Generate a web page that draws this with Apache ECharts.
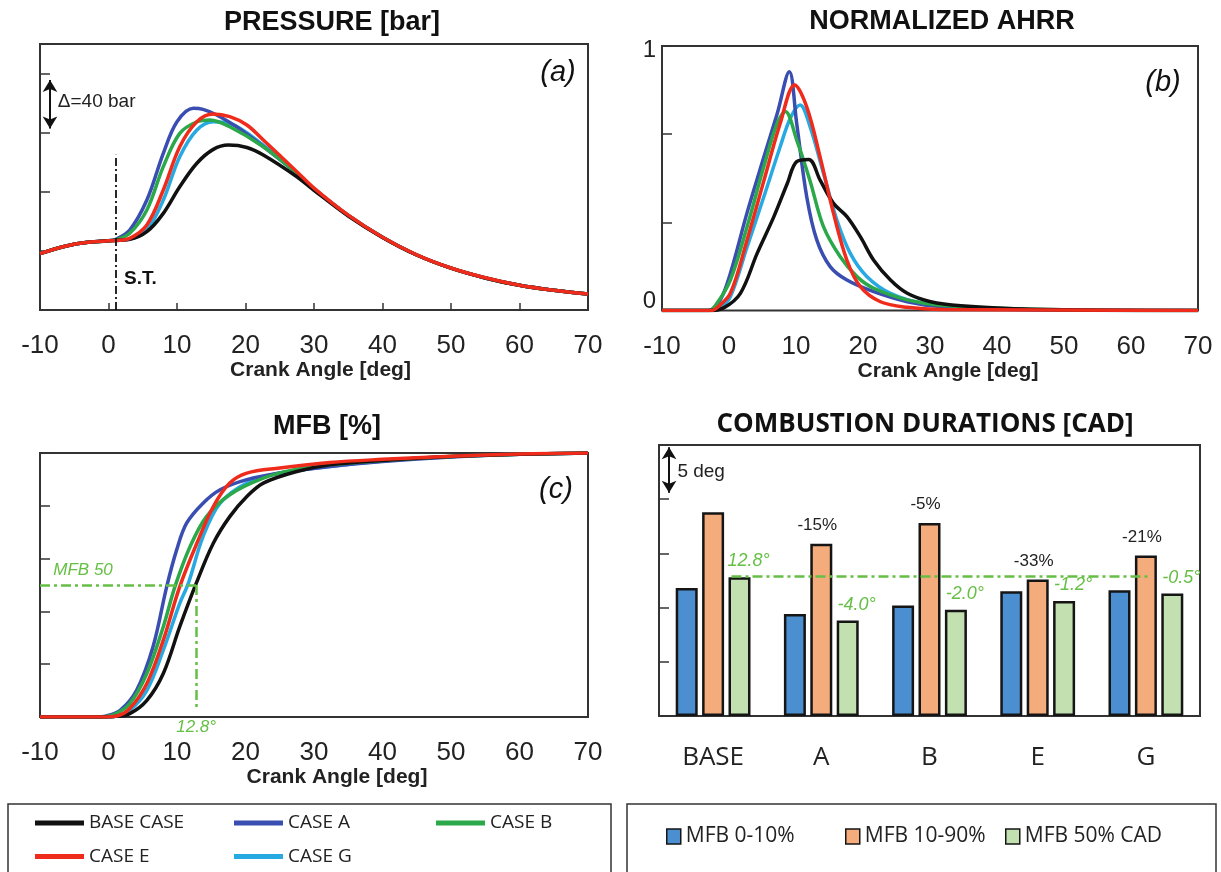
<!DOCTYPE html>
<html>
<head>
<meta charset="utf-8">
<title>Combustion analysis</title>
<script src="https://cdn.jsdelivr.net/npm/echarts@6/dist/echarts.min.js"></script>
<style>
html, body { margin: 0; padding: 0; background: #fff; }
#chart { width: 1221px; height: 872px; }
</style>
</head>
<body>
<div id="chart"></div>
<script>
// case names (legend order)
var caseNames = ['BASE CASE', 'CASE A', 'CASE B', 'CASE E', 'CASE G'];

// (a) in-cylinder pressure [bar] vs crank angle [deg]
var pressureBase = [[-10,38.2],[-6,43.5],[-3,45.8],[0,46.8],[1.1,47.2],[3.1,47.8],[5.6,53],[8,65.4],[10.4,83.4],[12.9,99.3],[15.3,108.7],[17.5,111.6],[20.2,110],[22.6,104.9],[27.5,90.2],[30,81],[35,63.6],[40,49.1],[45,37.2],[50,28.3],[55,21.7],[60,16.7],[65,13.3],[70,10.8]];
var pressureA = [[-10,38.2],[-6,43.5],[-3,45.8],[0,46.9],[1.1,47.9],[3.1,54.1],[5.6,74.4],[8,106],[10,127.4],[12.4,136.5],[13.8,135.8],[15.8,132],[18.7,124],[22.6,110.5],[27.5,92.5],[30,82],[35,64],[40,49.2],[45,37.2],[50,28.3],[55,21.7],[60,16.7],[65,13.3],[70,10.8]];
var pressureB = [[-10,38.2],[-6,43.5],[-3,45.8],[0,46.8],[1.1,47.5],[3.1,51.9],[5.6,67.7],[8,97],[10.4,119.5],[12.9,127.4],[14.8,128.6],[17.7,124],[22.6,110.5],[27.5,92.5],[30,82],[35,64],[40,49.2],[45,37.2],[50,28.3],[55,21.7],[60,16.7],[65,13.3],[70,10.8]];
var pressureE = [[-10,38.2],[-6,43.5],[-3,45.8],[0,46.8],[1.1,47],[3.1,48.5],[5.6,57.5],[8,81.2],[10.4,110.5],[12.9,127.4],[15.3,132.6],[17.7,130.8],[20.2,125.2],[22.6,115],[27.5,93.6],[30,82.5],[35,64.2],[40,49.3],[45,37.3],[50,28.4],[55,21.8],[60,16.8],[65,13.4],[70,10.9]];
var pressureG = [[-10,38.2],[-6,43.5],[-3,45.8],[0,46.8],[1.1,47],[3.1,47.9],[5.6,54.1],[8,74.4],[10.4,103.7],[12.9,121.8],[15.3,127.4],[17.7,126.3],[22.6,111.6],[27.5,92.5],[30,82],[35,64],[40,49.2],[45,37.2],[50,28.3],[55,21.7],[60,16.7],[65,13.3],[70,10.8]];

// (b) normalized apparent heat release rate [-]
var ahrrBase = [[-10,0],[-3,0],[-0.8,0.01],[1.7,0.065],[4.2,0.216],[6.7,0.355],[8.7,0.48],[10.1,0.563],[11.9,0.571],[13.6,0.493],[15.6,0.405],[17.6,0.355],[19.6,0.279],[21.6,0.19],[24.1,0.115],[26.6,0.065],[30.1,0.033],[34.6,0.018],[45,0.005],[70,0]];
var ahrrA = [[-10,0],[-3,0],[-1.3,0.04],[0.2,0.14],[2.7,0.37],[5.2,0.58],[7.2,0.745],[9,0.903],[10.1,0.708],[11.6,0.43],[13.1,0.267],[15.1,0.166],[17.6,0.115],[21.6,0.071],[26.6,0.033],[31.5,0.015],[45,0.003],[70,0]];
var ahrrB = [[-10,0],[-3,0],[-1.8,0.027],[0.2,0.115],[2.7,0.317],[5.2,0.544],[7.2,0.708],[8.4,0.752],[10.1,0.645],[12.1,0.49],[14.1,0.317],[16.6,0.203],[19.1,0.128],[21.6,0.084],[26.6,0.04],[31.5,0.02],[45,0.005],[70,0]];
var ahrrE = [[-10,0],[-2.5,0],[-1.8,0.01],[0.2,0.065],[2.7,0.267],[5.2,0.49],[7.65,0.708],[9.8,0.853],[11.6,0.77],[13.6,0.58],[15.6,0.367],[17.6,0.19],[19.6,0.09],[22.6,0.033],[26.6,0.012],[32,0.004],[70,0]];
var ahrrG = [[-10,0],[-2.5,0],[-1.3,0.01],[0.2,0.052],[2.7,0.24],[5.2,0.43],[7.65,0.62],[9.15,0.727],[10.6,0.777],[12.1,0.695],[14.1,0.519],[16.1,0.342],[18.1,0.216],[20.6,0.128],[24.1,0.065],[29.1,0.027],[40,0.006],[70,0]];

// (c) mass fraction burned [%]
var mfbBase = [[-10,0],[0,0],[0.7,0.1],[3.1,1.3],[5.6,6.3],[8,16.5],[10.4,34.2],[12.8,50.6],[15.3,65.8],[17.7,75.9],[20.2,83.5],[22.6,88.6],[27.5,93],[32.3,95.5],[40,97.2],[50,98.7],[60,99.5],[70,100]];
var mfbA = [[-10,0],[-2,0],[-0.3,0.4],[1.7,2.5],[4.1,10.1],[6.5,26.6],[8.5,49.4],[9.95,63.3],[11.4,73.4],[13.8,81],[16.3,86.1],[20.2,89.9],[25,92.4],[32.3,94.9],[40,96.8],[50,98.5],[60,99.5],[70,100]];
var mfbB = [[-10,0],[-1.5,0],[0.7,0.8],[3.1,5.1],[5.6,16.5],[8,34.2],[9.7,49.4],[11.9,64.5],[14.3,75.9],[17.7,84.2],[22.6,90.5],[27.5,93.9],[32.3,95.5],[40,97.2],[50,98.7],[60,99.5],[70,100]];
var mfbE = [[-10,0],[-1,0],[1.2,0.4],[3.1,3.2],[5.6,12.7],[8,29.1],[10.4,49.4],[12.9,65.8],[15.3,79.7],[17.7,88.6],[20.2,92.4],[25,94.3],[32.3,96.4],[40,97.6],[50,98.8],[60,99.6],[70,100]];
var mfbG = [[-10,0],[-1,0],[1.2,0.4],[3.1,2.5],[5.6,10.1],[8,25.3],[10.4,43],[11.65,50.6],[13.8,68.3],[16.3,81],[20.2,88.6],[25,92.4],[32.3,94.9],[40,97],[50,98.6],[60,99.5],[70,100]];

// (d) combustion durations [CAD]
var durationCases = ['BASE', 'A', 'B', 'E', 'G'];
var mfb0to10 = [11.8, 9.4, 10.2, 11.5, 11.6];
var mfb10to90 = [18.8, 15.9, 17.8, 12.6, 14.8];
var mfb50cad = [12.8, 8.8, 9.8, 10.6, 11.3];
var burnDurationDelta = ['', '-15%', '-5%', '-33%', '-21%'];
var mfb50Delta = ['12.8°', '-4.0°', '-2.0°', '-1.2°', '-0.5°'];

// reference values for annotations
var sparkTiming = 1.1;
var baseMfb50 = 12.8;

var myChart = echarts.init(document.getElementById('chart'));

var caseColors = {'BASE CASE': '#111111', 'CASE A': '#3a4db0', 'CASE B': '#2aa84a', 'CASE E': '#ef2b1c', 'CASE G': '#27a9e1'};
var caseData = {
    'BASE CASE': [pressureBase, ahrrBase, mfbBase],
    'CASE A': [pressureA, ahrrA, mfbA],
    'CASE B': [pressureB, ahrrB, mfbB],
    'CASE E': [pressureE, ahrrE, mfbE],
    'CASE G': [pressureG, ahrrG, mfbG]
};
// drawing order (last on top)
var drawOrder = ['CASE G', 'CASE A', 'CASE B', 'BASE CASE', 'CASE E'];

var arial = '"Liberation Sans", Arial, sans-serif';
var calibri = '"Open Sans", sans-serif';
var mfbGreen = '#66bf45';
var boxColor = '#333';

var series = [];
for (var panel = 0; panel < 3; panel++) {
    drawOrder.forEach(function (name) {
        series.push({
            name: name,
            type: 'line',
            xAxisIndex: panel,
            yAxisIndex: panel,
            data: caseData[name][panel],
            color: caseColors[name],
            smooth: 0.35,
            symbol: 'none',
            showSymbol: false,
            silent: true,
            lineStyle: {width: 3.5, color: caseColors[name]}
        });
    });
}

// annotations of panel (a)
series.push({
    type: 'line', xAxisIndex: 0, yAxisIndex: 0, data: [], silent: true, z: 5,
    markLine: {
        silent: true, animation: false, symbol: 'none',
        label: {show: false},
        itemStyle: {color: '#111'},
        data: [
            [{coord: [sparkTiming, 0], lineStyle: {color: '#111', width: 1.8, type: [8, 3, 2, 3]}}, {coord: [sparkTiming, 105]}],
            [{coord: [-8.54, 155.6], symbol: 'arrow', symbolSize: [11, 12], lineStyle: {color: '#111', width: 2, type: 'solid'}},
             {coord: [-8.54, 122.9], symbol: 'arrow', symbolSize: [11, 12]}]
        ]
    },
    markPoint: {
        silent: true, animation: false, symbol: 'circle', symbolSize: 0,
        data: [
            {coord: [4.67, 21.4], label: {show: true, position: 'inside', formatter: 'S.T.', fontFamily: arial, fontWeight: 'bold', fontSize: 19, color: '#111'}},
            {coord: [-7.4, 140.9], label: {show: true, position: 'right', distance: 0, formatter: 'Δ=40 bar', fontFamily: arial, fontSize: 19, color: '#222'}}
        ]
    }
});

// annotations of panel (c)
series.push({
    type: 'line', xAxisIndex: 2, yAxisIndex: 2, data: [], silent: true, z: 5,
    markLine: {
        silent: true, animation: false, symbol: 'none',
        lineStyle: {color: mfbGreen, width: 2.5, type: [10, 4, 3, 4]},
        label: {show: false},
        data: [
            [{coord: [-10, 50]}, {coord: [baseMfb50, 50]}],
            [{coord: [baseMfb50, 50]}, {coord: [baseMfb50, 3], label: {show: true, position: 'end', distance: 10, formatter: '12.8°', fontFamily: arial, fontStyle: 'italic', fontSize: 17, color: mfbGreen}}]
        ]
    },
    markPoint: {
        silent: true, animation: false, symbol: 'circle', symbolSize: 0,
        data: [
            {coord: [-8.06, 55.7], label: {show: true, position: 'right', distance: 0, formatter: 'MFB 50', fontFamily: arial, fontStyle: 'italic', fontSize: 17, color: mfbGreen}}
        ]
    }
});

// bars of panel (d)
var barCommon = {type: 'bar', xAxisIndex: 3, yAxisIndex: 3, barWidth: 22, barGap: '20%', silent: true};
series.push(Object.assign({}, barCommon, {
    name: 'MFB 0-10%', data: mfb0to10,
    itemStyle: {color: '#4b8fd1', borderColor: '#151515', borderWidth: 2.5}
}));
series.push(Object.assign({}, barCommon, {
    name: 'MFB 10-90%', data: mfb10to90,
    itemStyle: {color: '#f4ac7c', borderColor: '#151515', borderWidth: 2.5},
    label: {
        show: true, position: 'top', distance: 10, offset: [-4, 0],
        formatter: function (p) { return burnDurationDelta[p.dataIndex]; },
        fontFamily: arial, fontSize: 17, color: '#222'
    }
}));
series.push(Object.assign({}, barCommon, {
    name: 'MFB 50% CAD', data: mfb50cad,
    itemStyle: {color: '#c3e1b0', borderColor: '#151515', borderWidth: 2.5},
    label: {
        show: true, position: 'top', distance: 7, offset: [9, 0],
        formatter: function (p) { return mfb50Delta[p.dataIndex]; },
        fontFamily: arial, fontStyle: 'italic', fontSize: 18, color: mfbGreen
    }
}));

// annotations of panel (d)
series.push({
    type: 'line', xAxisIndex: 4, yAxisIndex: 3, data: [], silent: true, z: 5,
    markLine: {
        silent: true, animation: false, symbol: 'none',
        label: {show: false},
        itemStyle: {color: '#111'},
        data: [
            [{coord: [0.17, 12.9], lineStyle: {color: mfbGreen, width: 2.5, type: [10, 4, 3, 4]}}, {coord: [4.04, 12.9]}],
            [{coord: [-0.407, 24.8], symbol: 'arrow', symbolSize: [11, 12], lineStyle: {color: '#111', width: 2, type: 'solid'}},
             {coord: [-0.407, 20.6], symbol: 'arrow', symbolSize: [11, 12]}]
        ]
    },
    markPoint: {
        silent: true, animation: false, symbol: 'circle', symbolSize: 0,
        data: [
            {coord: [-0.33, 22.5], label: {show: true, position: 'right', distance: 0, formatter: '5 deg', fontFamily: arial, fontSize: 19, color: '#222'}}
        ]
    }
});

function gridBox(left, top, width, height) {
    return {left: left, top: top, width: width, height: height, show: true, borderColor: boxColor, borderWidth: 2, backgroundColor: 'transparent', containLabel: false, outerBoundsMode: 'none'};
}

function angleAxis(idx, ticks, shift) {
    return {
        type: 'value', gridIndex: idx, min: -10, max: 70, interval: 10,
        name: 'Crank Angle [deg]', nameLocation: 'middle', nameGap: 49,
        nameTextStyle: {fontFamily: arial, fontWeight: 'bold', fontSize: 21, color: '#222', padding: [0, 0, 0, shift]},
        axisLine: {show: false, onZero: false},
        axisTick: {show: ticks, inside: true, length: 7, lineStyle: {color: boxColor, width: 1.5}},
        axisLabel: {fontFamily: arial, fontSize: 26, color: '#222', margin: 23},
        splitLine: {show: false}
    };
}

function plainY(idx, min, max, interval) {
    return {
        type: 'value', gridIndex: idx, min: min, max: max, interval: interval,
        position: 'left',
        axisLine: {show: false, onZero: false},
        axisTick: {show: true, inside: true, length: 10, lineStyle: {color: boxColor, width: 1.5}},
        axisLabel: {show: false},
        splitLine: {show: false}
    };
}

var ahrrAxis = plainY(1, 0, 1, 1 / 3);
ahrrAxis.axisLabel = {
    show: true, margin: 6,
    formatter: function (v) {
        if (Math.abs(v) < 1e-6) return '{lo|0}';
        if (Math.abs(v - 1) < 1e-6) return '{hi|1}';
        return '';
    },
    rich: {
        lo: {fontFamily: arial, fontSize: 24, color: '#222', padding: [0, 0, 18, 0]},
        hi: {fontFamily: arial, fontSize: 24, color: '#222', padding: [8, 0, 0, 0]}
    }
};

function legendLines(names, left) {
    return {
        data: names, orient: 'vertical', left: left, top: 813, padding: 0,
        itemGap: 13.5, itemWidth: 49, itemHeight: 5, icon: 'rect', selectedMode: false,
        textStyle: {fontFamily: calibri, fontSize: 19, color: '#222', lineHeight: 20}
    };
}
function legendBars(name, left) {
    return {
        data: [name], left: left, top: 826, padding: 0,
        itemWidth: 14, itemHeight: 15, icon: 'rect', selectedMode: false,
        itemStyle: {borderColor: '#151515', borderWidth: 1.5},
        textStyle: {fontFamily: calibri, fontSize: 21, color: '#222'}
    };
}

function label(text, x, y, font) {
    return {
        type: 'text', x: x, y: y, silent: true,
        style: {text: text, font: font, fill: '#111', textAlign: 'center', textVerticalAlign: 'middle', align: 'center', verticalAlign: 'middle'}
    };
}

myChart.setOption({
    animation: false,
    backgroundColor: '#fff',
    grid: [
        gridBox(40, 44, 548, 266),
        gridBox(662, 46, 536, 264.5),
        gridBox(40, 453, 548, 264),
        gridBox(659, 445, 541, 271)
    ],
    xAxis: [
        angleAxis(0, true, 13),
        angleAxis(1, false, 36),
        angleAxis(2, false, 46),
        {
            type: 'category', gridIndex: 3, data: durationCases,
            axisLine: {show: false, onZero: false}, axisTick: {show: false},
            axisLabel: {fontFamily: calibri, fontSize: 26, color: '#222', margin: 29},
            splitLine: {show: false}
        },
        {type: 'value', gridIndex: 3, min: -0.5, max: 4.5, show: false, axisLine: {onZero: false}}
    ],
    yAxis: [
        plainY(0, 0, 180, 40),
        ahrrAxis,
        plainY(2, 0, 100, 20),
        plainY(3, 0, 25, 5)
    ],
    legend: [
        legendLines(['BASE CASE', 'CASE E'], 35),
        legendLines(['CASE A', 'CASE G'], 234),
        legendLines(['CASE B'], 436),
        legendBars('MFB 0-10%', 666),
        legendBars('MFB 10-90%', 845),
        legendBars('MFB 50% CAD', 1005)
    ],
    graphic: [
        label('PRESSURE [bar]', 332, 23, 'bold 27px "Liberation Sans", Arial, sans-serif'),
        label('NORMALIZED AHRR', 942, 22, 'bold 27px "Liberation Sans", Arial, sans-serif'),
        label('MFB [%]', 327, 427, 'bold 27px "Liberation Sans", Arial, sans-serif'),
        label('COMBUSTION DURATIONS [CAD]', 925, 425, 'bold 26px "Open Sans", sans-serif'),
        label('(a)', 558, 73, 'italic 29px "Liberation Sans", Arial, sans-serif'),
        label('(b)', 1163, 83, 'italic 29px "Liberation Sans", Arial, sans-serif'),
        label('(c)', 556, 490, 'italic 29px "Liberation Sans", Arial, sans-serif'),
        {type: 'rect', silent: true, shape: {x: 8, y: 804, width: 603, height: 80}, style: {fill: 'none', stroke: boxColor, lineWidth: 1.5}},
        {type: 'rect', silent: true, shape: {x: 627, y: 804, width: 589, height: 80}, style: {fill: 'none', stroke: boxColor, lineWidth: 1.5}}
    ],
    series: series
});
</script>
</body>
</html>
